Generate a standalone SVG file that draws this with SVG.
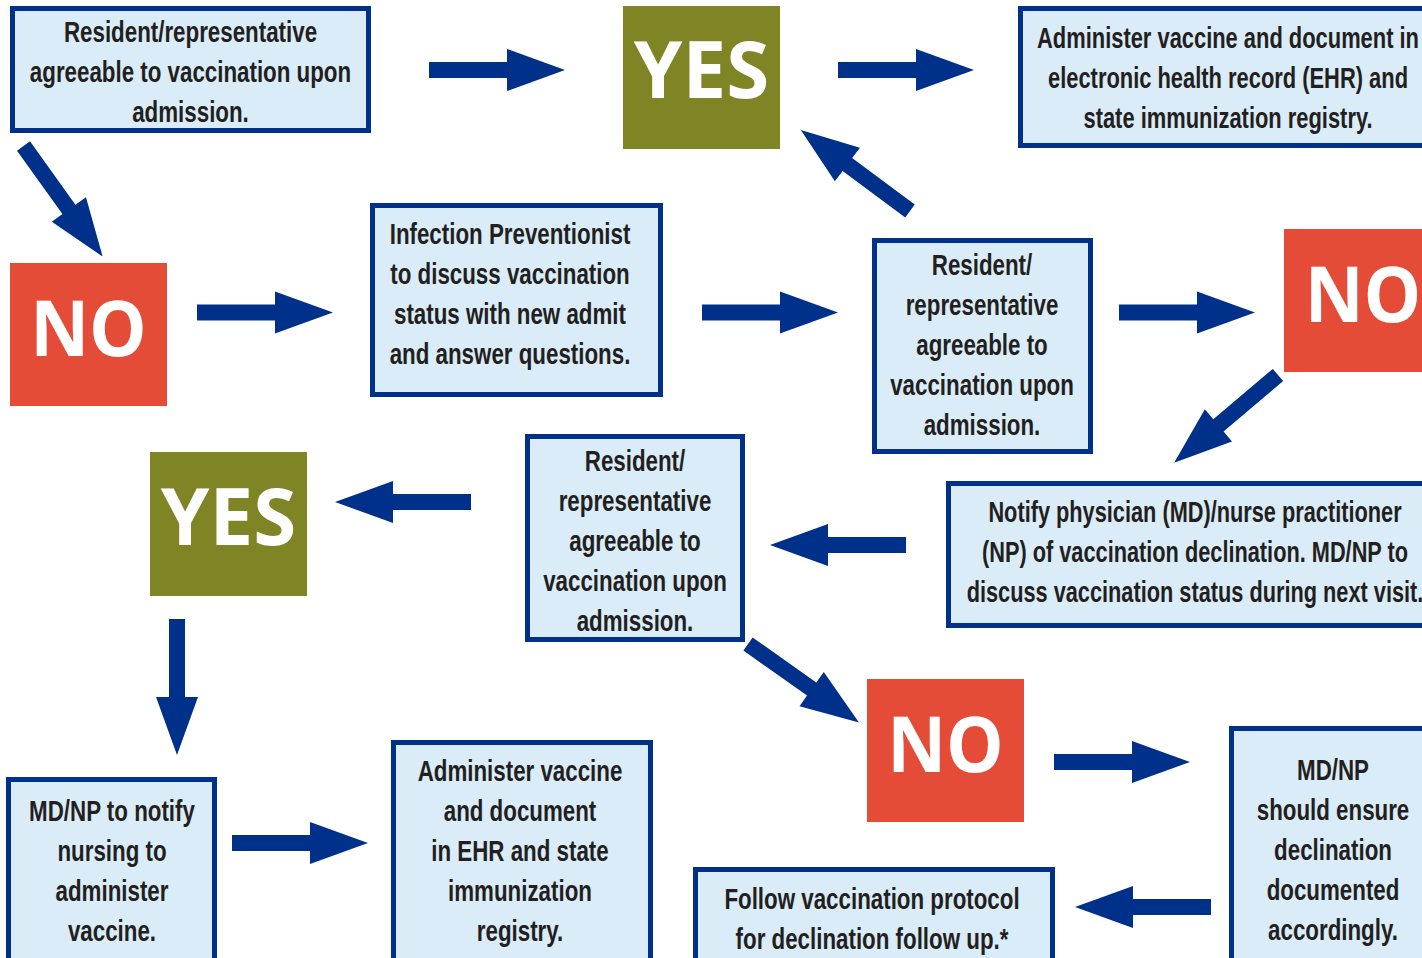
<svg xmlns="http://www.w3.org/2000/svg" width="1422" height="958" viewBox="0 0 1422 958">
<style>
.box{fill:#daecf8;stroke:#00318a;stroke-width:5}
.t{font-family:"Liberation Sans",sans-serif;font-weight:bold;font-size:29px;fill:#231f20;text-anchor:middle}
.yes{fill:#7f8524}
.no{fill:#e54c38}
.big{font-family:"Open Sans","DejaVu Sans",sans-serif;font-weight:bold;font-size:78px;fill:#ffffff;text-anchor:middle}
.arr{fill:#00318a}
</style>
<defs>
<path id="arrow" d="M0,-8 L78,-8 L78,-21 L136,0 L78,21 L78,8 L0,8 Z"/>
</defs>
<rect width="1422" height="958" fill="#ffffff"/>
<g id="n1"><rect class="box" x="12.5" y="8.5" width="356" height="122"/>
<g transform="translate(190.5 0) scale(0.77 1)">
<text class="t" x="0" y="42">Resident/representative</text>
<text class="t" x="0" y="82">agreeable to vaccination upon</text>
<text class="t" x="0" y="122">admission.</text></g></g>
<g id="yes1"><rect class="yes" x="623" y="6" width="157" height="143"/><text class="big" x="701.5" y="98">YES</text></g>
<g id="n2"><rect class="box" x="1020.5" y="8.5" width="420" height="137"/>
<g transform="translate(1228 0) scale(0.755 1)">
<text class="t" x="0" y="48">Administer vaccine and document in</text>
<text class="t" x="0" y="88">electronic health record (EHR) and</text>
<text class="t" x="0" y="128">state immunization registry.</text></g></g>
<g id="no1"><rect class="no" x="10" y="263" width="157" height="143"/><text class="big" transform="translate(88.5 356) scale(0.93 1)">NO</text></g>
<g id="n3"><rect class="box" x="372.5" y="205.5" width="288" height="189"/>
<g transform="translate(510 0) scale(0.77 1)">
<text class="t" x="0" y="244">Infection Preventionist</text>
<text class="t" x="0" y="284">to discuss vaccination</text>
<text class="t" x="0" y="324">status with new admit</text>
<text class="t" x="0" y="364">and answer questions.</text></g></g>
<g id="n4"><rect class="box" x="874.5" y="240.5" width="216" height="211"/>
<g transform="translate(982 0) scale(0.77 1)">
<text class="t" x="0" y="275">Resident/</text>
<text class="t" x="0" y="315">representative</text>
<text class="t" x="0" y="355">agreeable to</text>
<text class="t" x="0" y="395">vaccination upon</text>
<text class="t" x="0" y="435">admission.</text></g></g>
<g id="no2"><rect class="no" x="1284" y="229" width="157" height="143"/><text class="big" transform="translate(1363 322) scale(0.93 1)">NO</text></g>
<g id="n5"><rect class="box" x="948.5" y="483.5" width="500" height="142"/>
<g transform="translate(1195 0) scale(0.75 1)">
<text class="t" x="0" y="522">Notify physician (MD)/nurse practitioner</text>
<text class="t" x="0" y="562">(NP) of vaccination declination. MD/NP to</text>
<text class="t" x="0" y="602">discuss vaccination status during next visit.</text></g></g>
<g id="n6"><rect class="box" x="527.5" y="436.5" width="215" height="203"/>
<g transform="translate(635 0) scale(0.77 1)">
<text class="t" x="0" y="471">Resident/</text>
<text class="t" x="0" y="511">representative</text>
<text class="t" x="0" y="551">agreeable to</text>
<text class="t" x="0" y="591">vaccination upon</text>
<text class="t" x="0" y="631">admission.</text></g></g>
<g id="yes2"><rect class="yes" x="150" y="452" width="157" height="144"/><text class="big" x="228.5" y="545">YES</text></g>
<g id="no3"><rect class="no" x="867" y="679" width="157" height="143"/><text class="big" transform="translate(945.5 772) scale(0.93 1)">NO</text></g>
<g id="n7"><rect class="box" x="8.5" y="779.5" width="206" height="200"/>
<g transform="translate(112 0) scale(0.77 1)">
<text class="t" x="0" y="821">MD/NP to notify</text>
<text class="t" x="0" y="861">nursing to</text>
<text class="t" x="0" y="901">administer</text>
<text class="t" x="0" y="941">vaccine.</text></g></g>
<g id="n8"><rect class="box" x="393.5" y="742.5" width="257" height="240"/>
<g transform="translate(520 0) scale(0.77 1)">
<text class="t" x="0" y="781">Administer vaccine</text>
<text class="t" x="0" y="821">and document</text>
<text class="t" x="0" y="861">in EHR and state</text>
<text class="t" x="0" y="901">immunization</text>
<text class="t" x="0" y="941">registry.</text></g></g>
<g id="n9"><rect class="box" x="695.5" y="869.5" width="357" height="120"/>
<g transform="translate(872 0) scale(0.77 1)">
<text class="t" x="0" y="909">Follow vaccination protocol</text>
<text class="t" x="0" y="949">for declination follow up.*</text></g></g>
<g id="n10"><rect class="box" x="1231.5" y="728.5" width="220" height="260"/>
<g transform="translate(1333 0) scale(0.77 1)">
<text class="t" x="0" y="780">MD/NP</text>
<text class="t" x="0" y="820">should ensure</text>
<text class="t" x="0" y="860">declination</text>
<text class="t" x="0" y="900">documented</text>
<text class="t" x="0" y="940">accordingly.</text></g></g>
<g id="connectors" class="arr">
<use href="#arrow" transform="translate(429,70)"/>
<use href="#arrow" transform="translate(838,70)"/>
<use href="#arrow" transform="translate(23.5,146) rotate(54.4)"/>
<use href="#arrow" transform="translate(197,312.5)"/>
<use href="#arrow" transform="translate(702,312.5)"/>
<use href="#arrow" transform="translate(910,211) rotate(216.6)"/>
<use href="#arrow" transform="translate(1119,312.5)"/>
<use href="#arrow" transform="translate(1278,375) rotate(139.8)"/>
<use href="#arrow" transform="translate(906,545) rotate(180)"/>
<use href="#arrow" transform="translate(471,502) rotate(180)"/>
<use href="#arrow" transform="translate(177,619) rotate(90)"/>
<use href="#arrow" transform="translate(748,644) rotate(35.3)"/>
<use href="#arrow" transform="translate(232,843)"/>
<use href="#arrow" transform="translate(1054,762)"/>
<use href="#arrow" transform="translate(1211,907) rotate(180)"/>
</g>
</svg>
